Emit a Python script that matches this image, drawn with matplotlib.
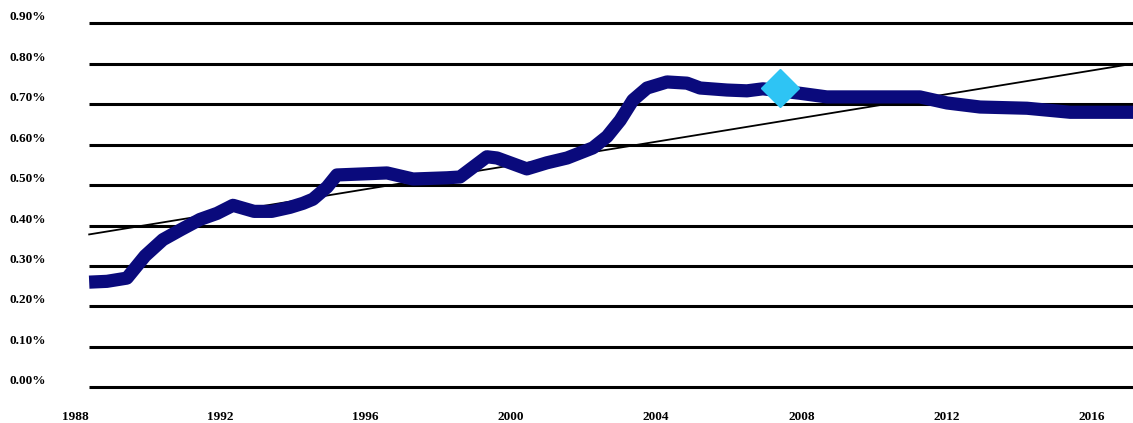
import matplotlib
matplotlib.use("Agg")
import matplotlib.pyplot as plt
import matplotlib.transforms as mtransforms

# --- data ---
years = [1988.39, 1988.88, 1989.43, 1989.93, 1990.42, 1990.92, 1991.44, 1991.91,
         1992.35, 1992.93, 1993.42, 1993.92, 1994.28, 1994.55, 1994.94, 1995.21,
         1996.59, 1997.31, 1998.24, 1998.60, 1999.34, 1999.62, 2000.44, 2000.99,
         2001.55, 2002.26, 2002.65, 2003.01, 2003.36, 2003.75, 2004.30, 2004.85,
         2005.21, 2005.95, 2006.50, 2006.94, 2007.96, 2008.70, 2011.26, 2012.01,
         2012.92, 2014.21, 2015.40, 2017.13]
share = [0.260, 0.262, 0.270, 0.325, 0.365, 0.390, 0.415, 0.430,
         0.450, 0.435, 0.435, 0.445, 0.455, 0.465, 0.495, 0.525,
         0.530, 0.515, 0.518, 0.520, 0.570, 0.567, 0.540, 0.555,
         0.567, 0.592, 0.620, 0.660, 0.710, 0.740, 0.755, 0.752,
         0.740, 0.735, 0.733, 0.738, 0.727, 0.718, 0.718, 0.703,
         0.693, 0.690, 0.680, 0.680]
trend_years = [1988.39, 2017.13]
trend_vals = [0.378, 0.800]
marker_year = [2007.41]
marker_val = [0.740]

y_ticks = [0.0, 0.1, 0.2, 0.3, 0.4, 0.5, 0.6, 0.7, 0.8, 0.9]
y_labels = ["0.00%", "0.10%", "0.20%", "0.30%", "0.40%", "0.50%",
            "0.60%", "0.70%", "0.80%", "0.90%"]
x_ticks = [1988, 1992, 1996, 2000, 2004, 2008, 2012, 2016]

W, H = 1133, 423
fig = plt.figure(figsize=(W / 100, H / 100), dpi=100)
# axes: x=75px is 1988, right edge 1133px; y=387.3px is 0, 23.3px is 0.9
x0, x1 = 75, 1133
ybot, ytop = 387.3, 23.3
ax = fig.add_axes([x0 / W, (H - ybot) / H, (x1 - x0) / W, (ybot - ytop) / H])
ax.set_xlim(1988, 2017.13)
ax.set_ylim(0, 0.9)
ax.axis("off")

ax.hlines(y_ticks, trend_years[0], 2017.13, colors="black", lw=2.2, zorder=1,
          clip_on=False)
ax.plot(trend_years, trend_vals, color="black", lw=1.3, zorder=2)
ax.plot(years, share, color="#0a0a7c", lw=9.5, solid_joinstyle="round",
        solid_capstyle="butt", zorder=3)
ax.plot(marker_year, marker_val, marker="D", ms=19, color="#2ec4f4",
        mec="#2ec4f4", ls="none", zorder=4)

font = dict(family="Liberation Serif", weight="bold", fontsize=9.5)
ytrans = mtransforms.blended_transform_factory(fig.transFigure, ax.transData)
off = mtransforms.ScaledTranslation(0, 6 / 100, fig.dpi_scale_trans)
for v, lab in zip(y_ticks, y_labels):
    fig.text(10 / W, v, lab, transform=ytrans + off, ha="left", va="center", **font)

xtrans = mtransforms.blended_transform_factory(ax.transData, fig.transFigure)
for yr in x_ticks:
    fig.text(yr, (H - 417) / H, str(yr), transform=xtrans, ha="center",
             va="center", **font)

fig.savefig("out.png", dpi=100)
